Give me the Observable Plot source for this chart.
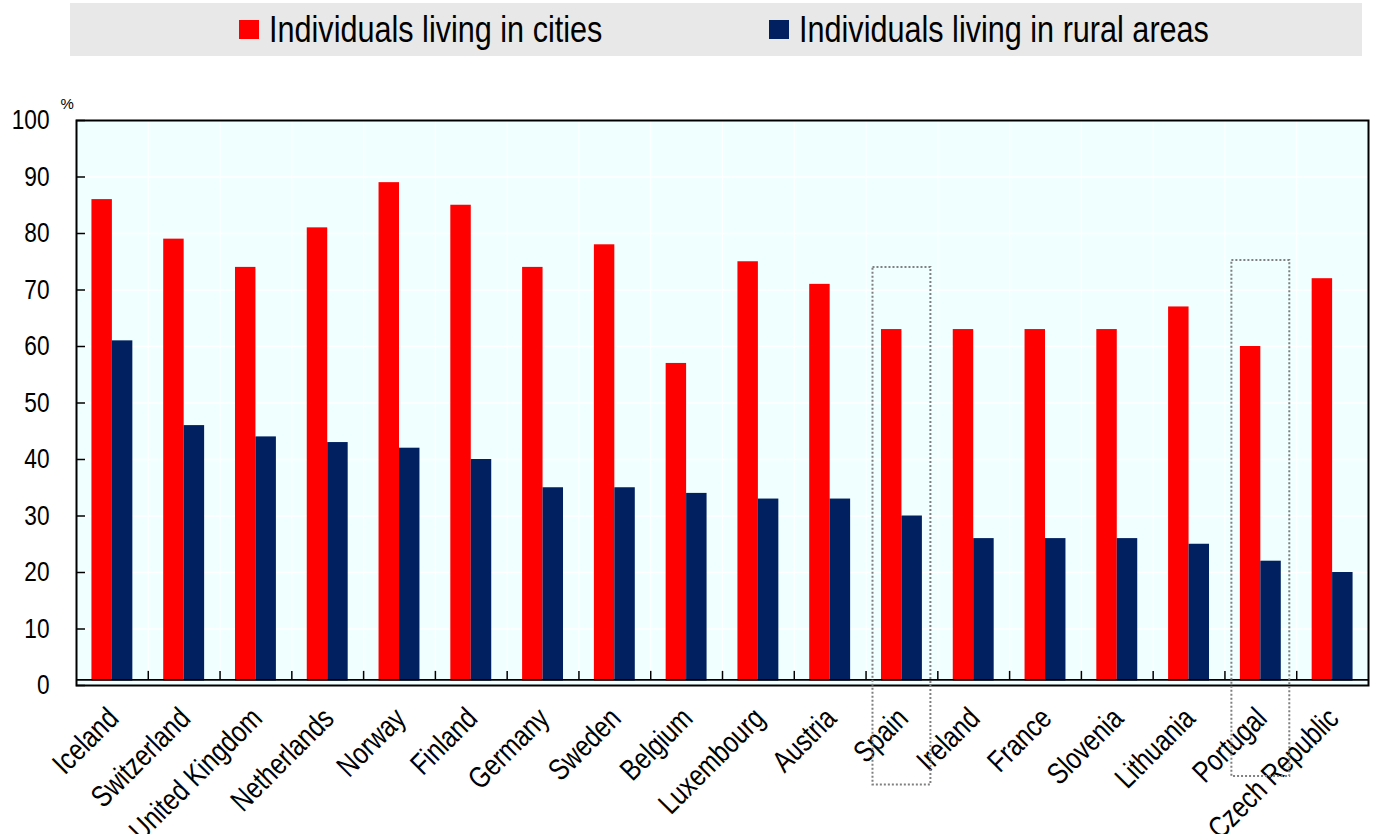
<!DOCTYPE html>
<html>
<head>
<meta charset="utf-8">
<script src="https://cdn.jsdelivr.net/npm/d3@7"></script>
<script src="https://cdn.jsdelivr.net/npm/@observablehq/plot@0.6"></script>
<style>
  html, body { margin: 0; padding: 0; background: #ffffff; }
  body { width: 1374px; height: 834px; overflow: hidden; font-family: "Liberation Sans", Arial, sans-serif; }
  #legend { position: relative; margin: 3px 0 0 70px; width: 1292px; height: 53px; background: #e8e8e8; }
  .item { position: absolute; top: 0; height: 53px; display: flex; align-items: center; color: #000; white-space: nowrap; }
  .sw { width: 20px; height: 19px; margin-right: 10px; flex: none; }
  .lt { display: inline-block; font-size: 36px; transform: scaleX(0.85); transform-origin: 0 50%; line-height: 53px; }
  #chart svg { display: block; }
</style>
</head>
<body>
<div id="legend"></div>
<div id="chart"></div>
<script>
const countries = ["Iceland","Switzerland","United Kingdom","Netherlands","Norway","Finland","Germany","Sweden","Belgium","Luxembourg","Austria","Spain","Ireland","France","Slovenia","Lithuania","Portugal","Czech Republic"];
const cities = [86,79,74,81,89,85,74,78,57,75,71,63,63,63,63,67,60,72];
const rural  = [61,46,44,43,42,40,35,35,34,33,33,30,26,26,26,25,22,20];
const seriesNames = ["Individuals living in cities","Individuals living in rural areas"];
const seriesColors = ["#ff0000","#002060"];
const yTicks = [0,10,20,30,40,50,60,70,80,90,100];
const highlightCountries = ["Spain","Portugal"];
const highlightTop = [74,75.2];
const highlightBottom = [-17.6,-16.1];

const citiesData = countries.map((c,i) => ({country: c, value: cities[i]}));
const ruralData = countries.map((c,i) => ({country: c, value: rural[i]}));
const highlights = highlightCountries.map((c,i) => ({country: c, top: highlightTop[i], bottom: highlightBottom[i]}));

// legend
const legend = document.getElementById("legend");
const legendLeft = [169, 699];
seriesNames.forEach((n,i) => {
  const it = document.createElement("div");
  it.className = "item";
  it.style.left = legendLeft[i] + "px";
  it.innerHTML = `<span class="sw" style="background:${seriesColors[i]}"></span><span class="lt">${n}</span>`;
  legend.appendChild(it);
});

const W = 1374, H = 778;
const mL = 76, mR = 6, mT = 64, mB = 149;
const step = (W - mL - mR) / countries.length;
const bw = step * 0.57;
const bg = "#f0ffff";
const font = "'Liberation Sans', Arial, sans-serif";

const chart = Plot.plot({
  width: W, height: H,
  marginLeft: mL, marginRight: mR, marginTop: mT, marginBottom: mB,
  style: {fontFamily: font, color: "#000", background: "transparent", overflow: "visible"},
  x: {domain: countries, paddingInner: 0.43, paddingOuter: 0.215, round: false, axis: null},
  y: {domain: [0,100], axis: null},
  marks: [
    Plot.frame({fill: bg, stroke: null}),
    Plot.gridY(yTicks.slice(1, -1), {stroke: "#ffffff", strokeOpacity: 1, strokeWidth: 1.5}),
    Plot.ruleX(countries.slice(1), {x: d => d, dx: -step/2, stroke: "#ffffff", strokeWidth: 1.2}),
    Plot.barY(citiesData, {x: "country", y: "value", fill: seriesColors[0], insetRight: bw/2}),
    Plot.barY(ruralData, {x: "country", y: "value", fill: seriesColors[1], insetLeft: bw/2}),
    Plot.ruleY([0], {stroke: bg, strokeWidth: 5, dy: -2.5}),
    Plot.ruleY([0], {stroke: "#000", strokeWidth: 1.6, dy: -5.6}),
    Plot.ruleX(countries.slice(1), {x: d => d, dx: -step/2, y1: 1.0, y2: 2.5, stroke: "#000", strokeWidth: 1.5}),
    Plot.frame({stroke: "#000", strokeWidth: 2}),
    Plot.axisY({ticks: yTicks, tickSize: 9, dx: 9, tickFormat: () => "", label: null, strokeWidth: 1.5}),
    Plot.axisY({ticks: yTicks, tickSize: 0, tickPadding: 27, fontSize: 28, label: null, className: "sq"}),
    Plot.text(["%"], {frameAnchor: "top-left", text: d => d, dx: -16, dy: -22, fontSize: 15}),
    Plot.text(countries, {x: d => d, text: d => d, frameAnchor: "bottom", rotate: -45, textAnchor: "end", lineAnchor: "middle", dy: 28, dx: 1, fontSize: 30, className: "sq"}),
    Plot.barY(highlights, {x: "country", y1: "bottom", y2: "top", fill: "none", stroke: "#808080", strokeWidth: 2, strokeDasharray: "2,2", insetLeft: -8.5, insetRight: -8.5, clip: false})
  ]
});
// narrow the axis texts (reference uses a condensed face)
chart.querySelectorAll("g.sq text").forEach(t => {
  const tr = t.getAttribute("transform");
  if (tr) {
    t.setAttribute("transform", tr + " scale(0.81,1)");
  } else {
    const x = +t.getAttribute("x") || 0, y = +t.getAttribute("y") || 0;
    t.removeAttribute("x"); t.removeAttribute("y");
    t.setAttribute("transform", `translate(${x},${y}) scale(0.81,1)`);
  }
});
document.getElementById("chart").appendChild(chart);
</script>
</body>
</html>
